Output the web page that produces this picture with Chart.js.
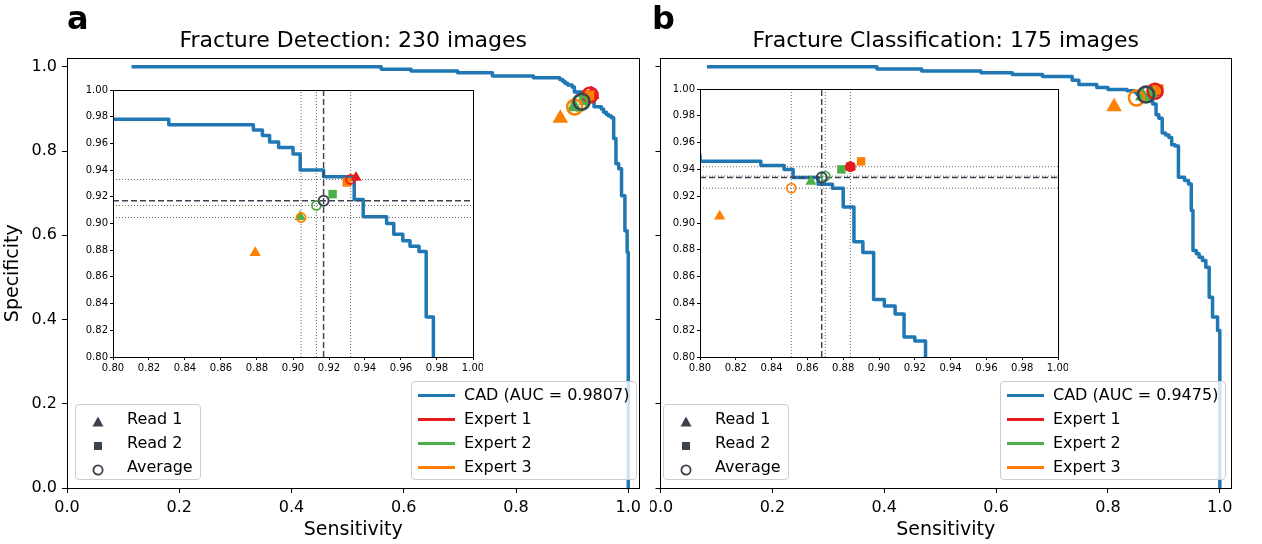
<!DOCTYPE html>
<html>
<head>
<meta charset="utf-8">
<title>Fracture ROC</title>
<script src="https://cdn.jsdelivr.net/npm/chart.js@4.4.1/dist/chart.umd.min.js"></script>
<style>
  body { margin: 0; background: #fff; }
  #fig { position: relative; width: 1262px; height: 544px; overflow: hidden; font-family: "DejaVu Sans", sans-serif; }
  #fig canvas { position: absolute; }
  .legend { position: absolute; box-sizing: border-box; background: rgba(255,255,255,0.8); border: 1px solid #cccccc; border-radius: 4px; font-size: 16px; color: #000; }
  .legend .row { position: absolute; left: 0; height: 24px; line-height: 24px; white-space: nowrap; }
  .legend .swatch { position: absolute; top: 10.5px; width: 37px; height: 3px; }
  .legend .mark { position: absolute; top: 5px; }
</style>
</head>
<body>
<div id="fig">
  <canvas id="mainA" width="650" height="544" style="left:0;top:0"></canvas>
  <canvas id="mainB" width="612" height="544" style="left:650px;top:0"></canvas>
  <canvas id="insetA" width="410" height="300" style="left:73px;top:80px"></canvas>
  <canvas id="insetB" width="408" height="301" style="left:660px;top:79px"></canvas>
</div>
<script>
// === DATA === //

const sensitivityTicks = [0.0, 0.2, 0.4, 0.6, 0.8, 1.0]
const specificityTicks = [0.0, 0.2, 0.4, 0.6, 0.8, 1.0]
const insetTicks = [0.80, 0.82, 0.84, 0.86, 0.88, 0.90, 0.92, 0.94, 0.96, 0.98, 1.00]

const expertNames = ["Expert 1", "Expert 2", "Expert 3"]
const readNames = ["Read 1", "Read 2", "Average"]

// CAD ROC curves as [sensitivity, specificity]
const detectionRoc = [
  [0.115, 1.0], [0.560, 1.0], [0.560, 0.994], [0.613, 0.994], [0.613, 0.990],
  [0.696, 0.990], [0.696, 0.986], [0.758, 0.986], [0.758, 0.978], [0.831, 0.978],
  [0.831, 0.974], [0.878, 0.974], [0.878, 0.970], [0.883, 0.970], [0.883, 0.966],
  [0.887, 0.966], [0.887, 0.961], [0.892, 0.961], [0.892, 0.957], [0.900, 0.957],
  [0.900, 0.952], [0.904, 0.952], [0.904, 0.940], [0.917, 0.940], [0.917, 0.935],
  [0.934, 0.935], [0.934, 0.918], [0.939, 0.918], [0.939, 0.905], [0.952, 0.905],
  [0.952, 0.900], [0.956, 0.900], [0.956, 0.892], [0.961, 0.892], [0.961, 0.887],
  [0.965, 0.887], [0.965, 0.883], [0.970, 0.883], [0.970, 0.879], [0.974, 0.879],
  [0.974, 0.830], [0.978, 0.830], [0.978, 0.770], [0.983, 0.770], [0.983, 0.758],
  [0.988, 0.758], [0.988, 0.694], [0.994, 0.694], [0.994, 0.611], [0.998, 0.611],
  [0.998, 0.560], [1.0, 0.560], [1.0, 0.0]
]
const detectionRead1 = [[0.935, 0.9345], [0.904, 0.905], [0.879, 0.878]]
const detectionRead2 = [[0.930, 0.931], [0.922, 0.922], [0.930, 0.931]]
const detectionAverage = [[0.932, 0.933], [0.913, 0.9135], [0.9045, 0.9045]]
const detectionMean = [[0.917, 0.917]]

const classificationRoc = [
  [0.083, 1.0], [0.387, 1.0], [0.387, 0.995], [0.467, 0.995], [0.467, 0.990],
  [0.573, 0.990], [0.573, 0.986], [0.629, 0.986], [0.629, 0.982], [0.683, 0.982],
  [0.683, 0.977], [0.736, 0.977], [0.736, 0.968], [0.748, 0.968], [0.748, 0.958],
  [0.780, 0.958], [0.780, 0.951], [0.800, 0.951], [0.800, 0.946], [0.834, 0.946],
  [0.834, 0.943], [0.847, 0.943], [0.847, 0.940], [0.852, 0.940], [0.852, 0.934],
  [0.866, 0.934], [0.866, 0.929], [0.874, 0.929], [0.874, 0.926], [0.880, 0.926],
  [0.880, 0.912], [0.886, 0.912], [0.886, 0.886], [0.891, 0.886], [0.891, 0.878],
  [0.897, 0.878], [0.897, 0.843], [0.903, 0.843], [0.903, 0.838], [0.909, 0.838],
  [0.909, 0.832], [0.914, 0.832], [0.914, 0.815], [0.920, 0.815], [0.920, 0.812],
  [0.926, 0.812], [0.926, 0.738], [0.937, 0.738], [0.937, 0.730], [0.944, 0.730],
  [0.944, 0.722], [0.949, 0.722], [0.949, 0.659], [0.952, 0.659], [0.952, 0.564],
  [0.958, 0.564], [0.958, 0.556], [0.963, 0.556], [0.963, 0.548], [0.969, 0.548],
  [0.969, 0.540], [0.975, 0.540], [0.975, 0.524], [0.981, 0.524], [0.981, 0.453],
  [0.987, 0.453], [0.987, 0.406], [0.996, 0.406], [0.996, 0.374], [1.0, 0.374],
  [1.0, 0.0]
]
const classificationRead1 = [[0.884, 0.942], [0.862, 0.931], [0.811, 0.905]]
const classificationRead2 = [[0.884, 0.942], [0.879, 0.940], [0.890, 0.946]]
const classificationAverage = [[0.884, 0.942], [0.870, 0.935], [0.851, 0.926]]
const classificationMean = [[0.868, 0.934]]

// === STYLE === //

const cadColor = "#1f77b4"
const expertColors = ["#e41a1c", "#4daf4a", "#ff7f00"]
const markerGrey = "#3c4250"

Chart.defaults.font.family = "DejaVu Sans"
Chart.defaults.color = "#000"

const panels = [
  {
    key: "a", title: "Fracture Detection: 230 images", auc: "0.9807",
    roc: detectionRoc, read1: detectionRead1, read2: detectionRead2,
    average: detectionAverage, mean: detectionMean,
    main: "mainA", inset: "insetA", yLabels: true, yWidth: 67, padRight: 8, letterX: 67,
    frameLeft: 67, frameRight: 642
  },
  {
    key: "b", title: "Fracture Classification: 175 images", auc: "0.9475",
    roc: classificationRoc, read1: classificationRead1, read2: classificationRead2,
    average: classificationAverage, mean: classificationMean,
    main: "mainB", inset: "insetB", yLabels: false, yWidth: 5, padRight: 31, letterX: 2,
    frameLeft: 655, frameRight: 1231
  }
]

// === PLUGINS === //

const framePlugin = {
  id: "frame",
  beforeDraw(chart, args, opts) {
    if (!opts.fill) return
    const a = chart.chartArea
    chart.ctx.save()
    chart.ctx.fillStyle = opts.fill
    chart.ctx.fillRect(a.left, a.top, a.right - a.left, a.bottom - a.top)
    chart.ctx.restore()
  },
  afterDraw(chart) {
    const a = chart.chartArea
    const ctx = chart.ctx
    const l = Math.round(a.left - 0.5) + 0.5, r = Math.round(a.right - 0.5) + 0.5
    const t = Math.round(a.top - 0.5) + 0.5, b = Math.round(a.bottom - 0.5) + 0.5
    ctx.save()
    ctx.strokeStyle = "#000"
    ctx.lineWidth = 1
    ctx.strokeRect(l, t, r - l, b - t)
    ctx.restore()
  }
}

const letterPlugin = {
  id: "letter",
  afterDraw(chart, args, opts) {
    if (!opts.text) return
    const ctx = chart.ctx
    ctx.save()
    ctx.font = "bold 32px 'DejaVu Sans'"
    ctx.fillStyle = "#000"
    ctx.textBaseline = "alphabetic"
    ctx.fillText(opts.text, opts.x, opts.y)
    ctx.restore()
  }
}

Chart.register(framePlugin, letterPlugin)

// === HELPERS === //

function points(list) {
  return list.map(p => ({ x: p[0], y: p[1] }))
}

function lineSet(data, color, width, dash) {
  return {
    data: data, showLine: true, borderColor: color, borderWidth: width,
    borderDash: dash || [], pointRadius: 0, fill: false, tension: 0,
    borderJoinStyle: "round", clip: 0
  }
}

function markerSets(panel, inset) {
  const r = inset
    ? { tri: 6.5, sq: 6, circ: 4.5, cw: 1.8, mean: 5, mw: 2 }
    : { tri: 9, sq: 7.5, circ: 7.5, cw: 2.5, mean: 8, mw: 2.5 }
  return [
    { data: points(panel.read1), pointStyle: "triangle", pointRadius: r.tri,
      pointBackgroundColor: expertColors, pointBorderWidth: 0, clip: 0 },
    { data: points(panel.read2), pointStyle: "rect", pointRadius: r.sq,
      pointBackgroundColor: expertColors, pointBorderWidth: 0, clip: 0 },
    { data: points(panel.average), pointStyle: "circle", pointRadius: r.circ,
      pointBackgroundColor: "rgba(0,0,0,0)", pointBorderColor: expertColors,
      pointBorderWidth: r.cw, clip: 0 },
    { data: points(panel.mean), pointStyle: "circle", pointRadius: r.mean,
      pointBackgroundColor: "rgba(0,0,0,0)", pointBorderColor: markerGrey,
      pointBorderWidth: r.mw, clip: 0 }
  ]
}

// later datasets are drawn on top
function stack(datasets) {
  datasets.forEach((d, i) => { d.order = datasets.length - i })
  return datasets
}

function makeAxis(ticks, min, max, opts) {
  return {
    type: "linear", min: min, max: max,
    afterBuildTicks: scale => { scale.ticks = ticks.map(v => ({ value: v })) },
    ticks: {
      callback: v => opts.labels ? v.toFixed(opts.digits) : "",
      font: { size: opts.fontSize }, color: "#000", padding: opts.pad,
      maxRotation: 0, autoSkip: false
    },
    grid: { drawOnChartArea: false, drawTicks: true, tickLength: opts.tickLen, color: "#000", tickWidth: 1 },
    border: { display: true, color: "#000", width: 1 },
    title: opts.title
      ? { display: true, text: opts.title, font: { size: 19 }, color: "#000", padding: { top: 2, bottom: 3 } }
      : { display: false },
    afterFit: scale => {
      if (opts.horizontal) scale.height = opts.size
      else scale.width = opts.size
      scale.paddingLeft = 0; scale.paddingRight = 0
      scale.paddingTop = 0; scale.paddingBottom = 0
    }
  }
}

// === CHARTS === //

function drawMain(panel) {
  const datasets = stack([lineSet(points(panel.roc), cadColor, 3.5)].concat(markerSets(panel, false)))
  new Chart(document.getElementById(panel.main), {
    type: "scatter",
    data: { datasets: datasets },
    options: {
      responsive: false, animation: false, events: [],
      layout: { padding: { left: 0, right: panel.padRight, top: 0, bottom: 0 } },
      plugins: {
        legend: { display: false }, tooltip: { enabled: false },
        title: {
          display: true, text: panel.title, fullSize: false,
          font: { size: 22, weight: "normal" }, color: "#000",
          padding: { top: 28, bottom: 4 }
        },
        frame: {},
        letter: { text: panel.key, x: panel.letterX, y: 29 }
      },
      scales: {
        x: makeAxis(sensitivityTicks, 0, 1.02, {
          labels: true, digits: 1, fontSize: 16, pad: 5, tickLen: 5,
          horizontal: true, size: 56, title: "Sensitivity"
        }),
        y: makeAxis(specificityTicks, 0, 1.02, {
          labels: panel.yLabels, digits: 1, fontSize: 16, pad: 5, tickLen: 5,
          horizontal: false, size: panel.yWidth, title: panel.yLabels ? "Specificity" : null
        })
      }
    }
  })
}

function drawInset(panel) {
  const lo = insetTicks[0], hi = insetTicks[insetTicks.length - 1]
  let guides = []
  panel.average.forEach(p => {
    guides.push(lineSet([{ x: p[0], y: lo }, { x: p[0], y: hi }], "#555555", 0.9, [1, 2]))
    guides.push(lineSet([{ x: lo, y: p[1] }, { x: hi, y: p[1] }], "#555555", 0.9, [1, 2]))
  })
  const m = panel.mean[0]
  guides.push(lineSet([{ x: m[0], y: lo }, { x: m[0], y: hi }], markerGrey, 1.4, [6, 3]))
  guides.push(lineSet([{ x: lo, y: m[1] }, { x: hi, y: m[1] }], markerGrey, 1.4, [6, 3]))

  const datasets = stack([lineSet(points(panel.roc), cadColor, 3.5)].concat(guides, markerSets(panel, true)))
  new Chart(document.getElementById(panel.inset), {
    type: "scatter",
    data: { datasets: datasets },
    options: {
      responsive: false, animation: false, events: [],
      layout: { padding: { left: 0, right: 10, top: 10, bottom: 0 } },
      plugins: {
        legend: { display: false }, tooltip: { enabled: false },
        frame: { fill: "#ffffff" }
      },
      scales: {
        x: makeAxis(insetTicks, lo, hi, {
          labels: true, digits: 2, fontSize: 10, pad: 2, tickLen: 3, horizontal: true, size: 23
        }),
        y: makeAxis(insetTicks, lo, hi, {
          labels: true, digits: 2, fontSize: 10, pad: 2, tickLen: 3, horizontal: false, size: 40
        })
      }
    }
  })
}

// === LEGENDS === //

const fig = document.getElementById("fig")

function markerSvg(i) {
  if (i === 0) return `<svg width="14" height="14"><polygon points="7,1.5 12.5,11.5 1.5,11.5" fill="${markerGrey}"/></svg>`
  if (i === 1) return `<svg width="14" height="14"><rect x="3" y="3" width="8" height="8" fill="${markerGrey}"/></svg>`
  return `<svg width="14" height="14"><circle cx="7" cy="7" r="4.6" fill="none" stroke="${markerGrey}" stroke-width="1.8"/></svg>`
}

function addLegends(panel) {
  const lines = document.createElement("div")
  lines.className = "legend"
  const lineLeft = panel.frameRight - 231
  lines.style.cssText = `left:${lineLeft}px; top:381px; width:226px; height:99px`
  const labels = [`CAD (AUC = ${panel.auc})`].concat(expertNames)
  const colors = [cadColor].concat(expertColors)
  labels.forEach((label, i) => {
    lines.innerHTML += `<div class="row" style="top:${1 + 24 * i}px; width:100%">` +
      `<div class="swatch" style="left:6px; background:${colors[i]}"></div>` +
      `<span style="position:absolute; left:52px">${label}</span></div>`
  })
  fig.appendChild(lines)

  const marks = document.createElement("div")
  marks.className = "legend"
  marks.style.cssText = `left:${panel.frameLeft + 8}px; top:404px; width:126px; height:76px`
  readNames.forEach((label, i) => {
    marks.innerHTML += `<div class="row" style="top:${2 + 24 * i}px; width:100%">` +
      `<div class="mark" style="left:15px">${markerSvg(i)}</div>` +
      `<span style="position:absolute; left:51px">${label}</span></div>`
  })
  fig.appendChild(marks)
}

panels.forEach(panel => {
  drawMain(panel)
  drawInset(panel)
  addLegends(panel)
})
</script>
</body>
</html>
